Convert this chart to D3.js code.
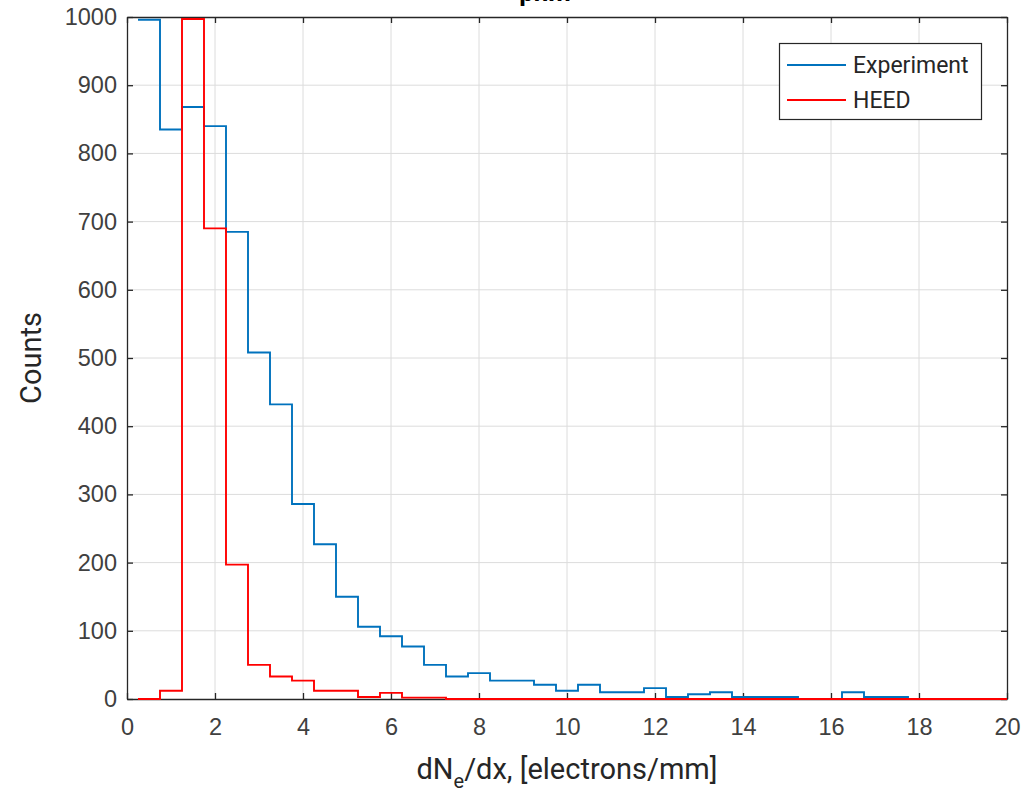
<!DOCTYPE html>
<html>
<head>
<meta charset="utf-8">
<script src="https://cdn.jsdelivr.net/npm/d3@7"></script>
<style>
  body { margin: 0; background: #fff; }
  svg { font-family: Roboto, "Open Sans", sans-serif; }
</style>
</head>
<body>
<div id="chart"></div>
<script>
// bin edges of both histograms (width 0.5)
const binEdges = [0.25, 0.75, 1.25, 1.75, 2.25, 2.75, 3.25, 3.75, 4.25, 4.75,
  5.25, 5.75, 6.25, 6.75, 7.25, 7.75, 8.25, 8.75, 9.25, 9.75,
  10.25, 10.75, 11.25, 11.75, 12.25, 12.75, 13.25, 13.75, 14.25, 14.75,
  15.25, 15.75, 16.25, 16.75, 17.25, 17.75, 18.25, 18.75, 19.25, 19.75, 20.25];

// counts per bin
const experimentCounts = [996, 835, 868, 840, 685, 508, 432, 286, 227, 150,
  106, 92, 77, 50, 33, 38, 27, 27, 21, 12,
  21, 10, 10, 16, 3, 7, 10, 3, 3, 3,
  0, 0, 10, 3, 3, 0, 0, 0, 0, 0];
const heedCounts = [0, 12, 997, 690, 197, 50, 33, 27, 12, 12,
  3, 9, 2, 2, 0, 0, 0, 0, 0, 0,
  0, 0, 0, 0, 0, 0, 0, 0, 0, 0,
  0, 0, 0, 0, 0, 0, 0, 0, 0, 0];

const xTicks = [0, 2, 4, 6, 8, 10, 12, 14, 16, 18, 20];
const yTicks = [0, 100, 200, 300, 400, 500, 600, 700, 800, 900, 1000];
const seriesNames = ["Experiment", "HEED"];
const seriesColors = ["#0072BD", "#FF0000"];

const width = 1036, height = 792;
const margin = { left: 127, right: 29, top: 17, bottom: 93 };
const axisColor = "#262626";

const svg = d3.select("#chart").append("svg")
  .attr("width", width)
  .attr("height", height);

svg.append("rect").attr("width", width).attr("height", height).attr("fill", "#fff");

const x = d3.scaleLinear().domain([0, 20]).range([margin.left, width - margin.right]);
const y = d3.scaleLinear().domain([0, 1000]).range([height - margin.bottom, margin.top]);

// title (cut off at the top of the figure, as in the original)
svg.append("text")
  .attr("x", 545).attr("y", 1)
  .attr("text-anchor", "middle")
  .attr("font-weight", "bold")
  .attr("font-size", 26)
  .attr("fill", "#000")
  .text("pnm");

// grid
const grid = svg.append("g").attr("stroke", "#dcdcdc").attr("stroke-width", 1);
grid.selectAll(".gx").data(xTicks.slice(1, -1)).enter().append("line")
  .attr("x1", d => x(d)).attr("x2", d => x(d))
  .attr("y1", y(0)).attr("y2", y(1000));
grid.selectAll(".gy").data(yTicks.slice(1, -1)).enter().append("line")
  .attr("y1", d => y(d)).attr("y2", d => y(d))
  .attr("x1", x(0)).attr("x2", x(20));

// axes with inner ticks on all four sides
function styleAxis(g) {
  g.select(".domain").attr("stroke", axisColor).attr("stroke-width", 1.3);
  g.selectAll(".tick line").attr("stroke", axisColor).attr("stroke-width", 1.3);
  g.selectAll(".tick text").attr("fill", "#404040").attr("font-size", 23.5);
}

svg.append("g")
  .attr("transform", `translate(0,${y(0)})`)
  .call(d3.axisBottom(x).tickValues(xTicks).tickSizeInner(-6).tickSizeOuter(0).tickPadding(19).tickFormat(d3.format("d")))
  .call(styleAxis);

svg.append("g")
  .attr("transform", `translate(0,${y(1000)})`)
  .call(d3.axisTop(x).tickValues(xTicks).tickSizeInner(-6).tickSizeOuter(0).tickFormat(""))
  .call(styleAxis);

svg.append("g")
  .attr("transform", `translate(${x(0)},0)`)
  .call(d3.axisLeft(y).tickValues(yTicks).tickSizeInner(-6).tickSizeOuter(0).tickPadding(10).tickFormat(d3.format("d")))
  .call(styleAxis);

svg.append("g")
  .attr("transform", `translate(${x(20)},0)`)
  .call(d3.axisRight(y).tickValues(yTicks).tickSizeInner(-6).tickSizeOuter(0).tickFormat(""))
  .call(styleAxis);

// stairs outline for a histogram
function stairsPoints(counts) {
  const pts = [];
  counts.forEach((c, i) => {
    pts.push([binEdges[i], c]);
    pts.push([binEdges[i + 1], c]);
  });
  return pts;
}

svg.append("clipPath").attr("id", "plot-clip")
  .append("rect")
  .attr("x", x(0)).attr("y", y(1000) - 2)
  .attr("width", x(20) - x(0)).attr("height", y(0) - y(1000) + 4);

const line = d3.line().x(d => x(d[0])).y(d => y(d[1]));
const plot = svg.append("g").attr("clip-path", "url(#plot-clip)");

[experimentCounts, heedCounts].forEach((counts, i) => {
  plot.append("path")
    .datum(stairsPoints(counts))
    .attr("fill", "none")
    .attr("stroke", seriesColors[i])
    .attr("stroke-width", 1.9)
    .attr("d", line);
});

// axis labels
svg.append("text")
  .attr("transform", `translate(41,${(y(0) + y(1000)) / 2}) rotate(-90)`)
  .attr("text-anchor", "middle")
  .attr("font-size", 29)
  .attr("fill", "#262626")
  .text("Counts");

const xLabel = svg.append("text")
  .attr("x", (x(0) + x(20)) / 2)
  .attr("y", 779)
  .attr("text-anchor", "middle")
  .attr("font-size", 29)
  .attr("fill", "#262626");
xLabel.append("tspan").text("dN");
xLabel.append("tspan").attr("font-size", 20).attr("dy", 9).text("e");
xLabel.append("tspan").attr("dy", -9).text("/dx, [electrons/mm]");

// legend
const legend = svg.append("g");
legend.append("rect")
  .attr("x", 779.5).attr("y", 43.5)
  .attr("width", 202).attr("height", 76)
  .attr("fill", "#fff")
  .attr("stroke", axisColor)
  .attr("stroke-width", 1.2);

seriesNames.forEach((name, i) => {
  const ly = 65 + i * 35;
  legend.append("line")
    .attr("x1", 787).attr("x2", 846)
    .attr("y1", ly).attr("y2", ly)
    .attr("stroke", seriesColors[i])
    .attr("stroke-width", 1.9);
  legend.append("text")
    .attr("x", 853).attr("y", ly)
    .attr("dy", "0.35em")
    .attr("font-size", 23)
    .attr("fill", "#262626")
    .text(name);
});
</script>
</body>
</html>
